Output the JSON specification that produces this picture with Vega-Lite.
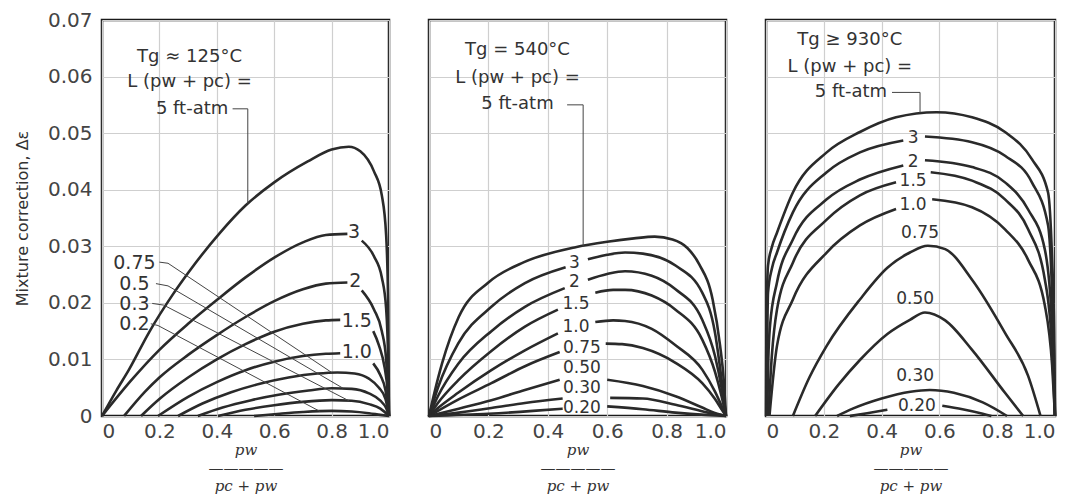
{
  "$schema": "https://vega.github.io/schema/vega-lite/v6.json",
  "padding": {"left": 13, "top": 8, "right": 5, "bottom": 3},
  "background": "white",
  "spacing": 40,
  "bounds": "flush",
  "datasets": {
    "curves": [
      {"p":1,"c":"5","s":0,"x":0,"y":0},{"p":1,"c":"5","s":0,"x":0.05,"y":0.0045},{"p":1,"c":"5","s":0,"x":0.094,"y":0.0082},{"p":1,"c":"5","s":0,"x":0.164,"y":0.0148},{"p":1,"c":"5","s":0,"x":0.247,"y":0.0215},{"p":1,"c":"5","s":0,"x":0.303,"y":0.0255},{"p":1,"c":"5","s":0,"x":0.408,"y":0.0322},{"p":1,"c":"5","s":0,"x":0.5,"y":0.0372},{"p":1,"c":"5","s":0,"x":0.6,"y":0.0413},{"p":1,"c":"5","s":0,"x":0.717,"y":0.045},{"p":1,"c":"5","s":0,"x":0.8,"y":0.0471},{"p":1,"c":"5","s":0,"x":0.86,"y":0.0476},{"p":1,"c":"5","s":0,"x":0.9,"y":0.0468},{"p":1,"c":"5","s":0,"x":0.948,"y":0.0432},{"p":1,"c":"5","s":0,"x":0.975,"y":0.039},{"p":1,"c":"5","s":0,"x":0.99,"y":0.032},{"p":1,"c":"5","s":0,"x":0.997,"y":0.02},{"p":1,"c":"5","s":0,"x":1,"y":0},
      {"p":1,"c":"3","s":0,"x":0,"y":0},{"p":1,"c":"3","s":0,"x":0.1,"y":0.0062},{"p":1,"c":"3","s":0,"x":0.2,"y":0.0117},{"p":1,"c":"3","s":0,"x":0.3,"y":0.0163},{"p":1,"c":"3","s":0,"x":0.4,"y":0.0205},{"p":1,"c":"3","s":0,"x":0.5,"y":0.0245},{"p":1,"c":"3","s":0,"x":0.6,"y":0.028},{"p":1,"c":"3","s":0,"x":0.7,"y":0.0307},{"p":1,"c":"3","s":0,"x":0.78,"y":0.032},{"p":1,"c":"3","s":0,"x":0.855,"y":0.0322},
      {"p":1,"c":"3","s":1,"x":0.905,"y":0.031},{"p":1,"c":"3","s":1,"x":0.948,"y":0.0282},{"p":1,"c":"3","s":1,"x":0.975,"y":0.0245},{"p":1,"c":"3","s":1,"x":0.99,"y":0.019},{"p":1,"c":"3","s":1,"x":0.997,"y":0.01},{"p":1,"c":"3","s":1,"x":1,"y":0},
      {"p":1,"c":"2","s":0,"x":0.077,"y":0},{"p":1,"c":"2","s":0,"x":0.15,"y":0.0043},{"p":1,"c":"2","s":0,"x":0.2,"y":0.0068},{"p":1,"c":"2","s":0,"x":0.3,"y":0.0108},{"p":1,"c":"2","s":0,"x":0.4,"y":0.0143},{"p":1,"c":"2","s":0,"x":0.5,"y":0.0175},{"p":1,"c":"2","s":0,"x":0.6,"y":0.0203},{"p":1,"c":"2","s":0,"x":0.7,"y":0.0224},{"p":1,"c":"2","s":0,"x":0.78,"y":0.0234},{"p":1,"c":"2","s":0,"x":0.855,"y":0.0236},
      {"p":1,"c":"2","s":1,"x":0.905,"y":0.0222},{"p":1,"c":"2","s":1,"x":0.948,"y":0.0188},{"p":1,"c":"2","s":1,"x":0.975,"y":0.015},{"p":1,"c":"2","s":1,"x":0.99,"y":0.01},{"p":1,"c":"2","s":1,"x":1,"y":0},
      {"p":1,"c":"1.5","s":0,"x":0.136,"y":0},{"p":1,"c":"1.5","s":0,"x":0.2,"y":0.003},{"p":1,"c":"1.5","s":0,"x":0.3,"y":0.0068},{"p":1,"c":"1.5","s":0,"x":0.4,"y":0.01},{"p":1,"c":"1.5","s":0,"x":0.5,"y":0.0127},{"p":1,"c":"1.5","s":0,"x":0.6,"y":0.0149},{"p":1,"c":"1.5","s":0,"x":0.7,"y":0.0163},{"p":1,"c":"1.5","s":0,"x":0.78,"y":0.0169},{"p":1,"c":"1.5","s":0,"x":0.83,"y":0.017},
      {"p":1,"c":"1.5","s":1,"x":0.945,"y":0.015},{"p":1,"c":"1.5","s":1,"x":0.965,"y":0.0125},{"p":1,"c":"1.5","s":1,"x":0.985,"y":0.0085},{"p":1,"c":"1.5","s":1,"x":0.995,"y":0.0045},{"p":1,"c":"1.5","s":1,"x":1,"y":0},
      {"p":1,"c":"1.0","s":0,"x":0.195,"y":0},{"p":1,"c":"1.0","s":0,"x":0.3,"y":0.0034},{"p":1,"c":"1.0","s":0,"x":0.4,"y":0.006},{"p":1,"c":"1.0","s":0,"x":0.5,"y":0.0081},{"p":1,"c":"1.0","s":0,"x":0.6,"y":0.0096},{"p":1,"c":"1.0","s":0,"x":0.7,"y":0.0106},{"p":1,"c":"1.0","s":0,"x":0.78,"y":0.011},{"p":1,"c":"1.0","s":0,"x":0.83,"y":0.0111},
      {"p":1,"c":"1.0","s":1,"x":0.945,"y":0.0093},{"p":1,"c":"1.0","s":1,"x":0.97,"y":0.0072},{"p":1,"c":"1.0","s":1,"x":0.988,"y":0.0045},{"p":1,"c":"1.0","s":1,"x":1,"y":0},
      {"p":1,"c":"0.75","s":0,"x":0.265,"y":0},{"p":1,"c":"0.75","s":0,"x":0.35,"y":0.0022},{"p":1,"c":"0.75","s":0,"x":0.45,"y":0.0042},{"p":1,"c":"0.75","s":0,"x":0.55,"y":0.0057},{"p":1,"c":"0.75","s":0,"x":0.65,"y":0.0068},{"p":1,"c":"0.75","s":0,"x":0.75,"y":0.0075},{"p":1,"c":"0.75","s":0,"x":0.82,"y":0.0077},{"p":1,"c":"0.75","s":0,"x":0.88,"y":0.0075},{"p":1,"c":"0.75","s":0,"x":0.93,"y":0.0066},{"p":1,"c":"0.75","s":0,"x":0.965,"y":0.005},{"p":1,"c":"0.75","s":0,"x":0.988,"y":0.003},{"p":1,"c":"0.75","s":0,"x":1,"y":0},
      {"p":1,"c":"0.5","s":0,"x":0.334,"y":0},{"p":1,"c":"0.5","s":0,"x":0.42,"y":0.0015},{"p":1,"c":"0.5","s":0,"x":0.52,"y":0.0028},{"p":1,"c":"0.5","s":0,"x":0.62,"y":0.0038},{"p":1,"c":"0.5","s":0,"x":0.72,"y":0.0045},{"p":1,"c":"0.5","s":0,"x":0.8,"y":0.0049},{"p":1,"c":"0.5","s":0,"x":0.87,"y":0.0048},{"p":1,"c":"0.5","s":0,"x":0.93,"y":0.004},{"p":1,"c":"0.5","s":0,"x":0.97,"y":0.0027},{"p":1,"c":"0.5","s":0,"x":0.99,"y":0.0014},{"p":1,"c":"0.5","s":0,"x":1,"y":0},
      {"p":1,"c":"0.3","s":0,"x":0.404,"y":0},{"p":1,"c":"0.3","s":0,"x":0.5,"y":0.0011},{"p":1,"c":"0.3","s":0,"x":0.6,"y":0.0019},{"p":1,"c":"0.3","s":0,"x":0.7,"y":0.0025},{"p":1,"c":"0.3","s":0,"x":0.8,"y":0.0028},{"p":1,"c":"0.3","s":0,"x":0.87,"y":0.0027},{"p":1,"c":"0.3","s":0,"x":0.93,"y":0.0021},{"p":1,"c":"0.3","s":0,"x":0.97,"y":0.0013},{"p":1,"c":"0.3","s":0,"x":1,"y":0},
      {"p":1,"c":"0.2","s":0,"x":0.53,"y":0},{"p":1,"c":"0.2","s":0,"x":0.62,"y":0.0004},{"p":1,"c":"0.2","s":0,"x":0.7,"y":0.0007},{"p":1,"c":"0.2","s":0,"x":0.8,"y":0.0009},{"p":1,"c":"0.2","s":0,"x":0.87,"y":0.0008},{"p":1,"c":"0.2","s":0,"x":0.93,"y":0.0005},{"p":1,"c":"0.2","s":0,"x":0.97,"y":0.0002},{"p":1,"c":"0.2","s":0,"x":1,"y":0},

      {"p":2,"c":"5","s":0,"x":0,"y":0},{"p":2,"c":"5","s":0,"x":0.02,"y":0.0045},{"p":2,"c":"5","s":0,"x":0.044,"y":0.0093},{"p":2,"c":"5","s":0,"x":0.1,"y":0.0175},{"p":2,"c":"5","s":0,"x":0.2,"y":0.0236},{"p":2,"c":"5","s":0,"x":0.32,"y":0.0272},{"p":2,"c":"5","s":0,"x":0.49,"y":0.0298},{"p":2,"c":"5","s":0,"x":0.6,"y":0.0308},{"p":2,"c":"5","s":0,"x":0.69,"y":0.0314},{"p":2,"c":"5","s":0,"x":0.76,"y":0.0317},{"p":2,"c":"5","s":0,"x":0.82,"y":0.0312},{"p":2,"c":"5","s":0,"x":0.87,"y":0.0297},{"p":2,"c":"5","s":0,"x":0.91,"y":0.0268},{"p":2,"c":"5","s":0,"x":0.955,"y":0.0206},{"p":2,"c":"5","s":0,"x":0.98,"y":0.0125},{"p":2,"c":"5","s":0,"x":0.993,"y":0.006},{"p":2,"c":"5","s":0,"x":1,"y":0},
      {"p":2,"c":"3","s":0,"x":0,"y":0},{"p":2,"c":"3","s":0,"x":0.03,"y":0.005},{"p":2,"c":"3","s":0,"x":0.098,"y":0.0128},{"p":2,"c":"3","s":0,"x":0.21,"y":0.0193},{"p":2,"c":"3","s":0,"x":0.323,"y":0.0235},{"p":2,"c":"3","s":0,"x":0.46,"y":0.0263},
      {"p":2,"c":"3","s":1,"x":0.535,"y":0.0277},{"p":2,"c":"3","s":1,"x":0.6,"y":0.0285},{"p":2,"c":"3","s":1,"x":0.66,"y":0.0289},{"p":2,"c":"3","s":1,"x":0.72,"y":0.0287},{"p":2,"c":"3","s":1,"x":0.83,"y":0.0266},{"p":2,"c":"3","s":1,"x":0.92,"y":0.0218},{"p":2,"c":"3","s":1,"x":0.963,"y":0.0147},{"p":2,"c":"3","s":1,"x":0.985,"y":0.0065},{"p":2,"c":"3","s":1,"x":1,"y":0},
      {"p":2,"c":"2","s":0,"x":0,"y":0},{"p":2,"c":"2","s":0,"x":0.03,"y":0.0035},{"p":2,"c":"2","s":0,"x":0.098,"y":0.0092},{"p":2,"c":"2","s":0,"x":0.21,"y":0.015},{"p":2,"c":"2","s":0,"x":0.323,"y":0.0193},{"p":2,"c":"2","s":0,"x":0.457,"y":0.0226},
      {"p":2,"c":"2","s":1,"x":0.535,"y":0.0241},{"p":2,"c":"2","s":1,"x":0.6,"y":0.0251},{"p":2,"c":"2","s":1,"x":0.66,"y":0.0256},{"p":2,"c":"2","s":1,"x":0.75,"y":0.0248},{"p":2,"c":"2","s":1,"x":0.83,"y":0.0224},{"p":2,"c":"2","s":1,"x":0.92,"y":0.017},{"p":2,"c":"2","s":1,"x":0.963,"y":0.0106},{"p":2,"c":"2","s":1,"x":0.985,"y":0.005},{"p":2,"c":"2","s":1,"x":1,"y":0},
      {"p":2,"c":"1.5","s":0,"x":0,"y":0},{"p":2,"c":"1.5","s":0,"x":0.03,"y":0.0023},{"p":2,"c":"1.5","s":0,"x":0.098,"y":0.0063},{"p":2,"c":"1.5","s":0,"x":0.21,"y":0.0115},{"p":2,"c":"1.5","s":0,"x":0.323,"y":0.0158},{"p":2,"c":"1.5","s":0,"x":0.434,"y":0.0188},
      {"p":2,"c":"1.5","s":1,"x":0.56,"y":0.0218},{"p":2,"c":"1.5","s":1,"x":0.62,"y":0.0223},{"p":2,"c":"1.5","s":1,"x":0.66,"y":0.0223},{"p":2,"c":"1.5","s":1,"x":0.75,"y":0.0213},{"p":2,"c":"1.5","s":1,"x":0.83,"y":0.0188},{"p":2,"c":"1.5","s":1,"x":0.92,"y":0.0135},{"p":2,"c":"1.5","s":1,"x":0.963,"y":0.0078},{"p":2,"c":"1.5","s":1,"x":0.985,"y":0.0035},{"p":2,"c":"1.5","s":1,"x":1,"y":0},
      {"p":2,"c":"1.0","s":0,"x":0,"y":0},{"p":2,"c":"1.0","s":0,"x":0.03,"y":0.0014},{"p":2,"c":"1.0","s":0,"x":0.098,"y":0.0041},{"p":2,"c":"1.0","s":0,"x":0.21,"y":0.0081},{"p":2,"c":"1.0","s":0,"x":0.323,"y":0.0116},{"p":2,"c":"1.0","s":0,"x":0.434,"y":0.0146},
      {"p":2,"c":"1.0","s":1,"x":0.56,"y":0.0166},{"p":2,"c":"1.0","s":1,"x":0.62,"y":0.0169},{"p":2,"c":"1.0","s":1,"x":0.66,"y":0.0168},{"p":2,"c":"1.0","s":1,"x":0.75,"y":0.0154},{"p":2,"c":"1.0","s":1,"x":0.83,"y":0.0125},{"p":2,"c":"1.0","s":1,"x":0.92,"y":0.0082},{"p":2,"c":"1.0","s":1,"x":0.963,"y":0.0043},{"p":2,"c":"1.0","s":1,"x":0.985,"y":0.0018},{"p":2,"c":"1.0","s":1,"x":1,"y":0},
      {"p":2,"c":"0.75","s":0,"x":0,"y":0},{"p":2,"c":"0.75","s":0,"x":0.098,"y":0.0029},{"p":2,"c":"0.75","s":0,"x":0.21,"y":0.0058},{"p":2,"c":"0.75","s":0,"x":0.323,"y":0.0088},{"p":2,"c":"0.75","s":0,"x":0.44,"y":0.0113},
      {"p":2,"c":"0.75","s":1,"x":0.595,"y":0.0128},{"p":2,"c":"0.75","s":1,"x":0.65,"y":0.0127},{"p":2,"c":"0.75","s":1,"x":0.72,"y":0.012},{"p":2,"c":"0.75","s":1,"x":0.83,"y":0.0094},{"p":2,"c":"0.75","s":1,"x":0.92,"y":0.0058},{"p":2,"c":"0.75","s":1,"x":0.963,"y":0.003},{"p":2,"c":"0.75","s":1,"x":0.985,"y":0.0012},{"p":2,"c":"0.75","s":1,"x":1,"y":0},
      {"p":2,"c":"0.50","s":0,"x":0,"y":0},{"p":2,"c":"0.50","s":0,"x":0.1,"y":0.0013},{"p":2,"c":"0.50","s":0,"x":0.21,"y":0.0028},{"p":2,"c":"0.50","s":0,"x":0.323,"y":0.0046},{"p":2,"c":"0.50","s":0,"x":0.44,"y":0.0064},
      {"p":2,"c":"0.50","s":1,"x":0.6,"y":0.0064},{"p":2,"c":"0.50","s":1,"x":0.72,"y":0.0053},{"p":2,"c":"0.50","s":1,"x":0.83,"y":0.0035},{"p":2,"c":"0.50","s":1,"x":0.92,"y":0.0015},{"p":2,"c":"0.50","s":1,"x":0.96,"y":0.0006},{"p":2,"c":"0.50","s":1,"x":1,"y":0},
      {"p":2,"c":"0.30","s":0,"x":0,"y":0},{"p":2,"c":"0.30","s":0,"x":0.1,"y":0.0006},{"p":2,"c":"0.30","s":0,"x":0.21,"y":0.0014},{"p":2,"c":"0.30","s":0,"x":0.323,"y":0.0023},{"p":2,"c":"0.30","s":0,"x":0.45,"y":0.0031},
      {"p":2,"c":"0.30","s":1,"x":0.61,"y":0.0032},{"p":2,"c":"0.30","s":1,"x":0.72,"y":0.0031},{"p":2,"c":"0.30","s":1,"x":0.83,"y":0.002},{"p":2,"c":"0.30","s":1,"x":0.94,"y":0.0006},{"p":2,"c":"0.30","s":1,"x":1,"y":0},
      {"p":2,"c":"0.20","s":0,"x":0,"y":0},{"p":2,"c":"0.20","s":0,"x":0.2,"y":0.0004},{"p":2,"c":"0.20","s":0,"x":0.35,"y":0.0009},{"p":2,"c":"0.20","s":0,"x":0.45,"y":0.0013},
      {"p":2,"c":"0.20","s":1,"x":0.6,"y":0.0017},{"p":2,"c":"0.20","s":1,"x":0.72,"y":0.0012},{"p":2,"c":"0.20","s":1,"x":0.83,"y":0.0006},{"p":2,"c":"0.20","s":1,"x":0.93,"y":0.0002},{"p":2,"c":"0.20","s":1,"x":1,"y":0},

      {"p":3,"c":"5","s":0,"x":0,"y":0},{"p":3,"c":"5","s":0,"x":0.001,"y":0.012},{"p":3,"c":"5","s":0,"x":0.003,"y":0.02},{"p":3,"c":"5","s":0,"x":0.007,"y":0.0266},{"p":3,"c":"5","s":0,"x":0.02,"y":0.0298},{"p":3,"c":"5","s":0,"x":0.038,"y":0.0324},{"p":3,"c":"5","s":0,"x":0.093,"y":0.0395},{"p":3,"c":"5","s":0,"x":0.21,"y":0.0466},{"p":3,"c":"5","s":0,"x":0.325,"y":0.0502},{"p":3,"c":"5","s":0,"x":0.45,"y":0.0528},{"p":3,"c":"5","s":0,"x":0.59,"y":0.0537},{"p":3,"c":"5","s":0,"x":0.713,"y":0.0528},{"p":3,"c":"5","s":0,"x":0.827,"y":0.0502},{"p":3,"c":"5","s":0,"x":0.92,"y":0.0454},{"p":3,"c":"5","s":0,"x":0.976,"y":0.0395},{"p":3,"c":"5","s":0,"x":0.99,"y":0.0276},{"p":3,"c":"5","s":0,"x":0.997,"y":0.015},{"p":3,"c":"5","s":0,"x":1,"y":0},
      {"p":3,"c":"3","s":0,"x":0.002,"y":0},{"p":3,"c":"3","s":0,"x":0.004,"y":0.012},{"p":3,"c":"3","s":0,"x":0.007,"y":0.0218},{"p":3,"c":"3","s":0,"x":0.02,"y":0.026},{"p":3,"c":"3","s":0,"x":0.038,"y":0.0289},{"p":3,"c":"3","s":0,"x":0.093,"y":0.036},{"p":3,"c":"3","s":0,"x":0.21,"y":0.0431},{"p":3,"c":"3","s":0,"x":0.325,"y":0.0466},{"p":3,"c":"3","s":0,"x":0.475,"y":0.0487},
      {"p":3,"c":"3","s":1,"x":0.55,"y":0.0494},{"p":3,"c":"3","s":1,"x":0.713,"y":0.0484},{"p":3,"c":"3","s":1,"x":0.827,"y":0.046},{"p":3,"c":"3","s":1,"x":0.92,"y":0.0413},{"p":3,"c":"3","s":1,"x":0.976,"y":0.0337},{"p":3,"c":"3","s":1,"x":0.99,"y":0.0218},{"p":3,"c":"3","s":1,"x":0.997,"y":0.01},{"p":3,"c":"3","s":1,"x":1,"y":0},
      {"p":3,"c":"2","s":0,"x":0.004,"y":0},{"p":3,"c":"2","s":0,"x":0.008,"y":0.01},{"p":3,"c":"2","s":0,"x":0.014,"y":0.016},{"p":3,"c":"2","s":0,"x":0.038,"y":0.0236},{"p":3,"c":"2","s":0,"x":0.093,"y":0.0312},{"p":3,"c":"2","s":0,"x":0.21,"y":0.0383},{"p":3,"c":"2","s":0,"x":0.325,"y":0.0418},{"p":3,"c":"2","s":0,"x":0.475,"y":0.0443},
      {"p":3,"c":"2","s":1,"x":0.55,"y":0.0452},{"p":3,"c":"2","s":1,"x":0.713,"y":0.044},{"p":3,"c":"2","s":1,"x":0.827,"y":0.0413},{"p":3,"c":"2","s":1,"x":0.907,"y":0.0365},{"p":3,"c":"2","s":1,"x":0.965,"y":0.0294},{"p":3,"c":"2","s":1,"x":0.99,"y":0.016},{"p":3,"c":"2","s":1,"x":1,"y":0},
      {"p":3,"c":"1.5","s":0,"x":0.008,"y":0},{"p":3,"c":"1.5","s":0,"x":0.02,"y":0.0105},{"p":3,"c":"1.5","s":0,"x":0.038,"y":0.0188},{"p":3,"c":"1.5","s":0,"x":0.093,"y":0.0271},{"p":3,"c":"1.5","s":0,"x":0.21,"y":0.0347},{"p":3,"c":"1.5","s":0,"x":0.325,"y":0.039},{"p":3,"c":"1.5","s":0,"x":0.45,"y":0.0413},
      {"p":3,"c":"1.5","s":1,"x":0.57,"y":0.0431},{"p":3,"c":"1.5","s":1,"x":0.713,"y":0.0416},{"p":3,"c":"1.5","s":1,"x":0.827,"y":0.0383},{"p":3,"c":"1.5","s":1,"x":0.907,"y":0.033},{"p":3,"c":"1.5","s":1,"x":0.965,"y":0.0241},{"p":3,"c":"1.5","s":1,"x":0.99,"y":0.012},{"p":3,"c":"1.5","s":1,"x":1,"y":0},
      {"p":3,"c":"1.0","s":0,"x":0.012,"y":0},{"p":3,"c":"1.0","s":0,"x":0.038,"y":0.0124},{"p":3,"c":"1.0","s":0,"x":0.093,"y":0.0206},{"p":3,"c":"1.0","s":0,"x":0.21,"y":0.0289},{"p":3,"c":"1.0","s":0,"x":0.325,"y":0.0337},{"p":3,"c":"1.0","s":0,"x":0.45,"y":0.0366},
      {"p":3,"c":"1.0","s":1,"x":0.575,"y":0.0383},{"p":3,"c":"1.0","s":1,"x":0.713,"y":0.0369},{"p":3,"c":"1.0","s":1,"x":0.827,"y":0.033},{"p":3,"c":"1.0","s":1,"x":0.907,"y":0.0276},{"p":3,"c":"1.0","s":1,"x":0.965,"y":0.0195},{"p":3,"c":"1.0","s":1,"x":0.99,"y":0.009},{"p":3,"c":"1.0","s":1,"x":1,"y":0},
      {"p":3,"c":"0.75","s":0,"x":0.093,"y":0},{"p":3,"c":"0.75","s":0,"x":0.15,"y":0.0068},{"p":3,"c":"0.75","s":0,"x":0.21,"y":0.0124},{"p":3,"c":"0.75","s":0,"x":0.325,"y":0.0206},{"p":3,"c":"0.75","s":0,"x":0.42,"y":0.0262},{"p":3,"c":"0.75","s":0,"x":0.498,"y":0.0289},{"p":3,"c":"0.75","s":0,"x":0.56,"y":0.0301},{"p":3,"c":"0.75","s":0,"x":0.62,"y":0.0295},{"p":3,"c":"0.75","s":0,"x":0.713,"y":0.0241},{"p":3,"c":"0.75","s":0,"x":0.827,"y":0.0147},{"p":3,"c":"0.75","s":0,"x":0.907,"y":0.0071},{"p":3,"c":"0.75","s":0,"x":0.95,"y":0},
      {"p":3,"c":"0.50","s":0,"x":0.17,"y":0},{"p":3,"c":"0.50","s":0,"x":0.25,"y":0.0055},{"p":3,"c":"0.50","s":0,"x":0.325,"y":0.0099},{"p":3,"c":"0.50","s":0,"x":0.42,"y":0.0145},{"p":3,"c":"0.50","s":0,"x":0.498,"y":0.017},{"p":3,"c":"0.50","s":0,"x":0.55,"y":0.0183},{"p":3,"c":"0.50","s":0,"x":0.62,"y":0.0169},{"p":3,"c":"0.50","s":0,"x":0.713,"y":0.0117},{"p":3,"c":"0.50","s":0,"x":0.827,"y":0.0041},{"p":3,"c":"0.50","s":0,"x":0.89,"y":0},
      {"p":3,"c":"0.30","s":0,"x":0.246,"y":0},{"p":3,"c":"0.30","s":0,"x":0.3,"y":0.0013},{"p":3,"c":"0.30","s":0,"x":0.4,"y":0.0031},{"p":3,"c":"0.30","s":0,"x":0.5,"y":0.0043},{"p":3,"c":"0.30","s":0,"x":0.567,"y":0.0046},{"p":3,"c":"0.30","s":0,"x":0.65,"y":0.0041},{"p":3,"c":"0.30","s":0,"x":0.75,"y":0.0024},{"p":3,"c":"0.30","s":0,"x":0.834,"y":0},
      {"p":3,"c":"0.20","s":0,"x":0.29,"y":0},{"p":3,"c":"0.20","s":0,"x":0.35,"y":0.0005},{"p":3,"c":"0.20","s":0,"x":0.42,"y":0.0011},
      {"p":3,"c":"0.20","s":1,"x":0.61,"y":0.0018},{"p":3,"c":"0.20","s":1,"x":0.68,"y":0.0012},{"p":3,"c":"0.20","s":1,"x":0.75,"y":0.0004},{"p":3,"c":"0.20","s":1,"x":0.78,"y":0}
    ],
    "leaders": [
      {"p":1,"c":"5","i":0,"x":0.455,"y":0.0543},{"p":1,"c":"5","i":1,"x":0.508,"y":0.0543},{"p":1,"c":"5","i":2,"x":0.508,"y":0.0375},
      {"p":1,"c":"0.75","i":0,"x":0.2,"y":0.0272},{"p":1,"c":"0.75","i":1,"x":0.23,"y":0.027},{"p":1,"c":"0.75","i":2,"x":0.8,"y":0.0077},
      {"p":1,"c":"0.5","i":0,"x":0.188,"y":0.0234},{"p":1,"c":"0.5","i":1,"x":0.23,"y":0.023},{"p":1,"c":"0.5","i":2,"x":0.84,"y":0.0049},
      {"p":1,"c":"0.3","i":0,"x":0.175,"y":0.0199},{"p":1,"c":"0.3","i":1,"x":0.215,"y":0.0196},{"p":1,"c":"0.3","i":2,"x":0.86,"y":0.0027},
      {"p":1,"c":"0.2","i":0,"x":0.17,"y":0.0163},{"p":1,"c":"0.2","i":1,"x":0.195,"y":0.016},{"p":1,"c":"0.2","i":2,"x":0.76,"y":0.0008},
      {"p":2,"c":"5","i":0,"x":0.465,"y":0.055},{"p":2,"c":"5","i":1,"x":0.519,"y":0.055},{"p":2,"c":"5","i":2,"x":0.519,"y":0.0299},
      {"p":3,"c":"5","i":0,"x":0.436,"y":0.0572},{"p":3,"c":"5","i":1,"x":0.533,"y":0.0572},{"p":3,"c":"5","i":2,"x":0.533,"y":0.0536}
    ],
    "labels": [
      {"p":1,"t":"3","x":0.878,"y":0.0326},{"p":1,"t":"2","x":0.883,"y":0.0238},{"p":1,"t":"1.5","x":0.888,"y":0.0168},{"p":1,"t":"1.0","x":0.888,"y":0.0113},
      {"p":1,"t":"0.75","x":0.113,"y":0.027},{"p":1,"t":"0.5","x":0.113,"y":0.0233},{"p":1,"t":"0.3","x":0.113,"y":0.0198},{"p":1,"t":"0.2","x":0.113,"y":0.0162},
      {"p":2,"t":"3","x":0.49,"y":0.0271},{"p":2,"t":"2","x":0.49,"y":0.0236},{"p":2,"t":"1.5","x":0.495,"y":0.0198},{"p":2,"t":"1.0","x":0.495,"y":0.0157},{"p":2,"t":"0.75","x":0.515,"y":0.0121},{"p":2,"t":"0.50","x":0.515,"y":0.0085},{"p":2,"t":"0.30","x":0.515,"y":0.005},{"p":2,"t":"0.20","x":0.515,"y":0.0015},
      {"p":3,"t":"3","x":0.509,"y":0.0491},{"p":3,"t":"2","x":0.509,"y":0.0449},{"p":3,"t":"1.5","x":0.509,"y":0.0415},{"p":3,"t":"1.0","x":0.509,"y":0.0373},{"p":3,"t":"0.75","x":0.533,"y":0.0324},{"p":3,"t":"0.50","x":0.516,"y":0.0206},{"p":3,"t":"0.30","x":0.516,"y":0.0071},{"p":3,"t":"0.20","x":0.522,"y":0.0018}
    ],
    "notes": [
      {"p":1,"t":"Tg ≈ 125°C","x":0.305,"y":0.0635},{"p":1,"t":"L (pw + pc) =","x":0.305,"y":0.059},{"p":1,"t":"5 ft-atm","x":0.314,"y":0.0543},
      {"p":2,"t":"Tg = 540°C","x":0.298,"y":0.0647},{"p":2,"t":"L (pw + pc) =","x":0.298,"y":0.0597},{"p":2,"t":"5 ft-atm","x":0.298,"y":0.0551},
      {"p":3,"t":"Tg ≥ 930°C","x":0.29,"y":0.0665},{"p":3,"t":"L (pw + pc) =","x":0.29,"y":0.0617},{"p":3,"t":"5 ft-atm","x":0.294,"y":0.0572}
    ]
  },
  "hconcat": [
    {
      "width": 287, "height": 396,
      "encoding": {
        "x": {"field": "x", "type": "quantitative", "scale": {"domain": [0, 1], "nice": false},
              "axis": {"values": [0, 0.2, 0.4, 0.6, 0.8, 1], "labelExpr": "datum.value == 0 ? '0' : format(datum.value, '.1f')", "title": ["pw", "—————", "pc + pw"]}},
        "y": {"field": "y", "type": "quantitative", "scale": {"domain": [0, 0.07], "nice": false},
              "axis": {"values": [0, 0.01, 0.02, 0.03, 0.04, 0.05, 0.06, 0.07], "labelExpr": "datum.value == 0 ? '0' : format(datum.value, '.2f')", "title": "Mixture correction, Δε"}}
      },
      "layer": [
        {"data": {"name": "curves"}, "transform": [{"filter": "datum.p == 1"}], "mark": {"type": "line", "interpolate": "monotone", "stroke": "#2a2a2a", "strokeWidth": 2.6}, "encoding": {"detail": [{"field": "c"}, {"field": "s"}]}},
        {"data": {"name": "leaders"}, "transform": [{"filter": "datum.p == 1"}], "mark": {"type": "line", "stroke": "#444", "strokeWidth": 1}, "encoding": {"detail": {"field": "c"}, "order": {"field": "i"}}},
        {"data": {"name": "labels"}, "transform": [{"filter": "datum.p == 1"}], "mark": {"type": "text", "font": "DejaVu Sans", "fontSize": 19, "fill": "#333"}, "encoding": {"text": {"field": "t"}}},
        {"data": {"name": "notes"}, "transform": [{"filter": "datum.p == 1"}], "mark": {"type": "text", "font": "DejaVu Sans", "fontSize": 18, "fill": "#333"}, "encoding": {"text": {"field": "t"}}}
      ]
    },
    {
      "width": 297, "height": 396,
      "encoding": {
        "x": {"field": "x", "type": "quantitative", "scale": {"domain": [0, 1], "nice": false},
              "axis": {"values": [0, 0.2, 0.4, 0.6, 0.8, 1], "labelExpr": "datum.value == 0 ? '0' : format(datum.value, '.1f')", "title": ["pw", "—————", "pc + pw"]}},
        "y": {"field": "y", "type": "quantitative", "scale": {"domain": [0, 0.07], "nice": false},
              "axis": {"values": [0, 0.01, 0.02, 0.03, 0.04, 0.05, 0.06, 0.07], "labels": false, "title": null}}
      },
      "layer": [
        {"data": {"name": "curves"}, "transform": [{"filter": "datum.p == 2"}], "mark": {"type": "line", "interpolate": "monotone", "stroke": "#2a2a2a", "strokeWidth": 2.6}, "encoding": {"detail": [{"field": "c"}, {"field": "s"}]}},
        {"data": {"name": "leaders"}, "transform": [{"filter": "datum.p == 2"}], "mark": {"type": "line", "stroke": "#444", "strokeWidth": 1}, "encoding": {"detail": {"field": "c"}, "order": {"field": "i"}}},
        {"data": {"name": "labels"}, "transform": [{"filter": "datum.p == 2"}], "mark": {"type": "text", "font": "DejaVu Sans", "fontSize": 17, "fill": "#333"}, "encoding": {"text": {"field": "t"}}},
        {"data": {"name": "notes"}, "transform": [{"filter": "datum.p == 2"}], "mark": {"type": "text", "font": "DejaVu Sans", "fontSize": 18, "fill": "#333"}, "encoding": {"text": {"field": "t"}}}
      ]
    },
    {
      "width": 289, "height": 396,
      "encoding": {
        "x": {"field": "x", "type": "quantitative", "scale": {"domain": [0, 1], "nice": false},
              "axis": {"values": [0, 0.2, 0.4, 0.6, 0.8, 1], "labelExpr": "datum.value == 0 ? '0' : format(datum.value, '.1f')", "title": ["pw", "—————", "pc + pw"]}},
        "y": {"field": "y", "type": "quantitative", "scale": {"domain": [0, 0.07], "nice": false},
              "axis": {"values": [0, 0.01, 0.02, 0.03, 0.04, 0.05, 0.06, 0.07], "labels": false, "title": null}}
      },
      "layer": [
        {"data": {"name": "curves"}, "transform": [{"filter": "datum.p == 3"}], "mark": {"type": "line", "interpolate": "monotone", "stroke": "#2a2a2a", "strokeWidth": 2.6}, "encoding": {"detail": [{"field": "c"}, {"field": "s"}]}},
        {"data": {"name": "leaders"}, "transform": [{"filter": "datum.p == 3"}], "mark": {"type": "line", "stroke": "#444", "strokeWidth": 1}, "encoding": {"detail": {"field": "c"}, "order": {"field": "i"}}},
        {"data": {"name": "labels"}, "transform": [{"filter": "datum.p == 3"}], "mark": {"type": "text", "font": "DejaVu Sans", "fontSize": 17, "fill": "#333"}, "encoding": {"text": {"field": "t"}}},
        {"data": {"name": "notes"}, "transform": [{"filter": "datum.p == 3"}], "mark": {"type": "text", "font": "DejaVu Sans", "fontSize": 18, "fill": "#333"}, "encoding": {"text": {"field": "t"}}}
      ]
    }
  ],
  "config": {
    "view": {"stroke": "#1a1a1a", "strokeWidth": 2.5},
    "axis": {
      "domain": false, "ticks": false, "grid": true, "gridColor": "#cfcfcf", "gridWidth": 1.2,
      "labelFont": "DejaVu Sans", "labelFontSize": 20, "labelColor": "#444",
      "titleColor": "#333", "titleFontWeight": "normal"
    },
    "axisX": {"labelPadding": 5, "titleFont": "DejaVu Serif", "titleFontStyle": "italic", "titleFontSize": 15, "titleLineHeight": 18, "titlePadding": 1},
    "axisY": {"labelPadding": 10, "titleFont": "DejaVu Sans", "titleFontSize": 16, "titlePadding": 17}
  }
}
